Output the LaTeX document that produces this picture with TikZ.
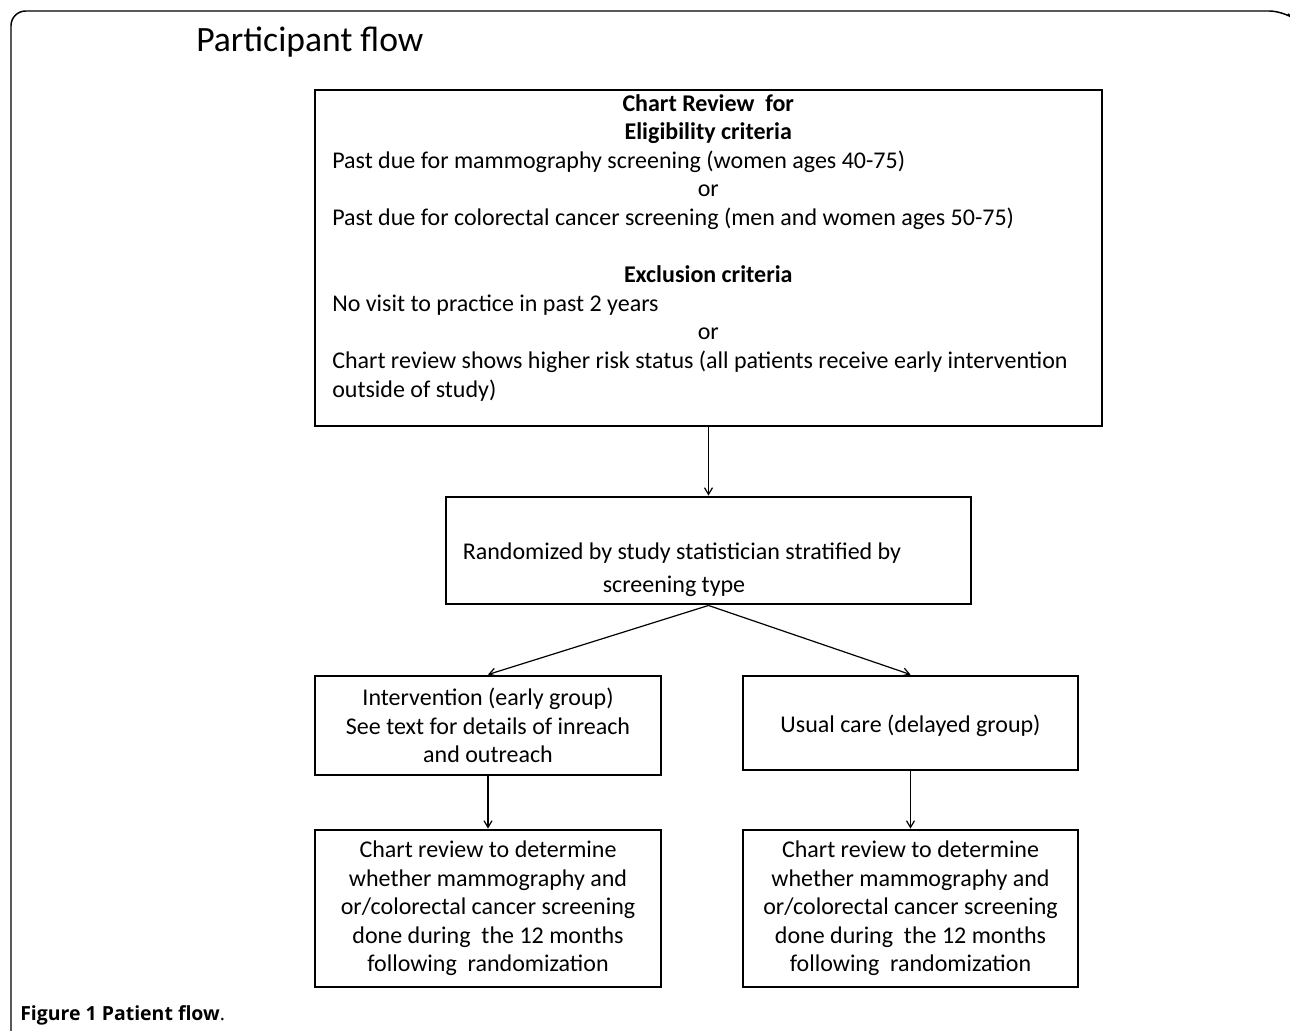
\documentclass[tikz,border=0pt]{standalone}
\usepackage{fontspec}
\setmainfont{Carlito}
\newfontfamily\capfont{Open Sans}
\usetikzlibrary{arrows.meta}
\tikzset{
  box/.style={draw, line width=2.2pt, inner sep=0pt, align=center,
    font=\fontsize{18}{21.4}\selectfont},
  txt/.style={inner sep=0pt, font=\fontsize{18}{21.45}\selectfont},
  flow/.style={-{Straight Barb[length=5pt,width=6pt]}, line width=0.9pt}
}
\begin{document}
\begin{tikzpicture}[x=0.75pt, y=-0.75pt]
      \useasboundingbox (0,0) rectangle (1290,1031);
      % frame and title
      \draw[line width=1.1pt, rounded corners=11pt] (11,1031) |- (1284,11) -- (1288,14);
      \node[anchor=base west, inner sep=0pt, font=\fontsize{26.7}{30}\selectfont] (ttl) at (196,52) {Participant flow};
      % boxes
      \node[box, minimum width=590.25pt, minimum height=252pt] (b1) at (708.5,258) {};
      \node[txt, anchor=north west, text width=564pt, align=flush left] (t1) at (332,94) {%
        \makebox[564pt][c]{\bfseries Chart Review~ for}\\
        \makebox[564pt][c]{\bfseries Eligibility criteria}\\
        Past due for mammography screening (women ages 40-75)\\
        \makebox[564pt][c]{or}\\
        Past due for colorectal cancer screening (men and women ages 50-75)\\[21.45pt]
        \makebox[564pt][c]{\bfseries Exclusion criteria}\\
        No visit to practice in past 2 years\\
        \makebox[564pt][c]{or}\\
        Chart review shows higher risk status (all patients receive early intervention\\
        outside of study)};
      \node[box, minimum width=393.75pt, minimum height=80.25pt] (b2) at (708.5,550.5) {};
      \node[txt, align=center] (t2) at (682,570) {Randomized by study statistician stratified by\\[3pt]screening type\hspace*{12pt}};
      \node[box, minimum width=259.5pt, minimum height=74.25pt] (b3) at (488,725.5)
        {Intervention (early group)\\See text for details of inreach\\and outreach};
      \node[box, minimum width=251.25pt, minimum height=70.5pt, text height=18pt, text depth=4.5pt] (b4) at (910.5,723)
        {Usual care (delayed group)};
      \node[box, minimum width=259.5pt, minimum height=117.75pt] (b5) at (488,908.5)
        {Chart review to determine\\whether mammography and\\or/colorectal cancer screening\\done during~ the 12 months\\following~ randomization};
      \node[box, minimum width=251.25pt, minimum height=117.75pt] (b6) at (910.5,908.5)
        {Chart review to determine\\whether mammography and\\or/colorectal cancer screening\\done during~ the 12 months\\following~ randomization};
      % connectors
      \draw[flow] (b1) to (b2);
      \draw[flow] (b2.south) to (b3.north);
      \draw[flow] (b2.south) to (b4.north);
      \draw[flow] (b3) to (b5);
      \draw[flow] (b4) to (b6);
      % caption
      \node[anchor=base west, inner sep=0pt, font=\capfont\fontsize{14.6}{18}\selectfont] (cap) at (20,1020)
        {\textbf{Figure 1 Patient flow}.};
    \end{tikzpicture}
\end{document}
